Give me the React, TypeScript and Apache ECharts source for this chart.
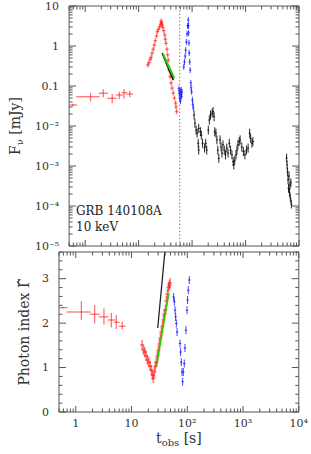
import React, { useEffect, useRef } from 'react';
import * as echarts from 'echarts';

// ---------- data ----------
// early (pre-flare) points with error bars
const earlyT = [0.59, 1.26, 2.18, 3.2, 4.34, 5.33, 6.8];
const earlyTLo = [0.45, 0.68, 1.78, 2.58, 3.77, 4.83, 5.93];
const earlyTHi = [0.71, 1.85, 2.68, 3.88, 5.12, 6.11, 7.81];
const earlyF = [0.0335, 0.054, 0.066, 0.049, 0.0596, 0.068, 0.063];
const earlyFLo = [0.031, 0.041, 0.052, 0.037, 0.0465, 0.049, 0.052];
const earlyFHi = [0.036, 0.068, 0.083, 0.063, 0.072, 0.084, 0.076];
const earlyG = [2.35, 2.25, 2.2, 2.14, 2.07, 2.02, 1.93];
const earlyGLo = [2.33, 2.07, 1.99, 1.97, 1.9, 1.87, 1.86];
const earlyGHi = [2.37, 2.49, 2.4, 2.33, 2.23, 2.18, 2.03];

// red flare, flux
const redT = [14.9, 15.5, 16.4, 17.1, 17.8, 18.8, 19.6, 20.4, 21.6, 22.4, 23.4, 24.7, 25.7, 26.4, 27.0, 27.5, 28.3, 29.5, 30.8, 31.6, 32.5, 33.9, 34.8, 35.8, 37.3, 38.8, 40.5, 42.2, 44.5, 46.7, 49.1, 50.1, 51.2];
const redF = [0.335, 0.383, 0.46, 0.52, 0.66, 0.83, 1.06, 1.36, 1.78, 2.28, 2.61, 3.04, 3.55, 4.2, 3.8, 3.35, 2.93, 2.42, 1.88, 1.47, 1.17, 0.83, 0.6, 0.447, 0.251, 0.171, 0.119, 0.089, 0.067, 0.05, 0.0376, 0.03, 0.0229];

// blue flare, flux
const blueT = [56.5, 57.5, 58.5, 59.5, 60.5, 61.5, 62.5, 63.5, 64.5, 69.9, 71.9, 74.1, 75.9, 78.1, 80.4, 82.6, 84.9, 85.3, 85.9, 87.3, 88.3, 90.2, 92.1, 94.6, 96.0, 98.0, 101.2, 103.0, 105.4];
const blueF = [0.085, 0.065, 0.05, 0.075, 0.042, 0.06, 0.08, 0.055, 0.07, 0.3, 0.4, 0.56, 0.79, 1.26, 2.0, 3.16, 4.47, 3.2, 2.11, 1.19, 0.67, 0.4, 0.25, 0.119, 0.09, 0.071, 0.045, 0.035, 0.028];

// black (late) flux
const blackT = [109, 113, 119, 124, 130, 133, 133, 143, 149, 157, 171, 180, 188, 201, 210, 221, 237, 247, 258, 265, 279, 291, 303, 316, 334, 348, 362, 378, 400, 422, 445, 471, 497, 525, 556, 586, 603, 628, 663, 691, 720, 759, 791, 849, 910, 973, 1042, 1117, 1194, 1245, 1318, 1372, 5860, 5980, 6110, 6240, 6360, 6500, 6630, 6770, 6900, 7050, 7200];
const blackF = [0.0188, 0.0117, 0.0079, 0.0066, 0.0037, 0.0087, 0.0025, 0.0072, 0.0059, 0.0037, 0.0028, 0.0037, 0.0025, 0.0079, 0.0141, 0.0188, 0.0209, 0.0229, 0.017, 0.0072, 0.0066, 0.0045, 0.0025, 0.00155, 0.0045, 0.003, 0.0021, 0.0034, 0.0025, 0.0019, 0.0028, 0.0021, 0.0037, 0.0025, 0.0019, 0.0013, 0.00106, 0.0014, 0.0019, 0.0025, 0.0034, 0.0041, 0.0045, 0.003, 0.0023, 0.0019, 0.0025, 0.0028, 0.0066, 0.0049, 0.0037, 0.0041, 0.00158, 0.00106, 0.00071, 0.00045, 0.00028, 0.00056, 0.00022, 0.00033, 0.000158, 0.00038, 0.000112];

// red flare, photon index
const redGT = [15.5, 16.4, 17.3, 18.3, 19.3, 20.4, 21.6, 22.8, 23.7, 24.7, 25.7, 26.8, 27.9, 29.1, 30.4, 31.6, 32.9, 34.3, 35.8, 37.3, 38.8, 40.5, 42.2, 44.0, 45.8, 47.7, 49.0];
const redG = [1.51, 1.39, 1.35, 1.26, 1.17, 1.12, 1.03, 0.94, 0.83, 0.76, 0.9, 1.03, 1.12, 1.26, 1.39, 1.53, 1.66, 1.8, 1.93, 2.07, 2.2, 2.3, 2.5, 2.65, 2.8, 2.85, 2.9];

// blue flare, photon index
const blueGT = [56.9, 58.6, 60.3, 61.8, 63.6, 65.5, 74.1, 75.9, 78.1, 80.4, 82.5, 84.9, 88.3, 90.9, 94.6, 98.8, 101.2, 104.2, 108.6];
const blueG = [2.59, 2.48, 2.29, 2.14, 1.99, 1.8, 1.54, 1.35, 1.12, 0.9, 0.68, 0.9, 1.09, 1.44, 1.84, 2.29, 2.52, 2.74, 2.97];

// model lines
const greenFluxLine = [[28.5, 0.63], [46.4, 0.156]];
const blackFluxLine = [[27.6, 0.66], [44.5, 0.14]];
const greenIndexLine = [[28.3, 1.06], [46.4, 2.67]];
const blackIndexLine = [[29.5, 1.89], [39.6, 3.6]];
const dottedT = 58.6;

// axes
const X_MIN = 0.5, X_MAX = 10000;
const F_MIN = 1e-5, F_MAX = 10;
const G_MIN = 0, G_MAX = 3.6;

// ---------- style ----------
const FONT = '"DejaVu Serif", serif';
const AX = '#555';
const TXT = '#333';
const RED = 'rgba(255,0,0,0.55)';
const BLUE = 'rgba(0,0,255,0.75)';
const BLACK = 'rgba(0,0,0,0.85)';

const SUP: Record<string, string> = { '-': '⁻', '0': '⁰', '1': '¹', '2': '²', '3': '³', '4': '⁴', '5': '⁵', '6': '⁶' };
const sup = (n: number) => String(n).split('').map((c) => SUP[c]).join('');

function logLabel(v: number, isY: boolean) {
  const l = Math.log10(v);
  const e = Math.round(l);
  if (Math.abs(l - e) > 1e-6) return '';
  if (e === 0) return '1';
  if (e === 1) return '10';
  if (e === -1 && isY) return '0.1';
  return '10' + sup(e);
}

function logTicks(lo: number, hi: number) {
  const out: { v: number; major: boolean }[] = [];
  for (let e = Math.floor(Math.log10(lo)); e <= Math.ceil(Math.log10(hi)); e++) {
    for (let m = 1; m <= 9; m++) {
      const v = m * Math.pow(10, e);
      if (v >= lo * 0.999 && v <= hi * 1.001) out.push({ v, major: m === 1 });
    }
  }
  return out;
}
function linTicks(lo: number, hi: number, step: number, every: number) {
  const out: { v: number; major: boolean }[] = [];
  for (let i = 0; lo + i * step <= hi + 1e-9; i++) out.push({ v: lo + i * step, major: i % every === 0 });
  return out;
}

const line = (x1: number, y1: number, x2: number, y2: number, stroke: string, lw: number) => ({
  type: 'line', shape: { x1, y1, x2, y2 }, style: { stroke, lineWidth: lw },
});

function tickSeries(grid: number, axis: 'x' | 'y', ticks: { v: number; major: boolean }[], ph: number) {
  return {
    type: 'custom', xAxisIndex: grid, yAxisIndex: grid, silent: true, z: 6, clip: false,
    data: ticks.map((t) => (axis === 'x' ? [t.v, ph, t.major ? 6 : 3.5] : [ph, t.v, t.major ? 7 : 3.5])),
    encode: { x: 0, y: 1 },
    renderItem: (params: any, api: any) => {
      const cs = params.coordSys;
      const len = api.value(2);
      if (axis === 'x') {
        const px = api.coord([api.value(0), ph])[0];
        return { type: 'group', children: [
          line(px, cs.y + cs.height, px, cs.y + cs.height - len, AX, 1),
          line(px, cs.y, px, cs.y + len, AX, 1),
        ] };
      }
      const py = api.coord([ph, api.value(1)])[1];
      return { type: 'group', children: [
        line(cs.x, py, cs.x + len, py, AX, 1),
        line(cs.x + cs.width, py, cs.x + cs.width - len, py, AX, 1),
      ] };
    },
  };
}

function crossSeries(grid: number, xs: number[], ys: number[], color: string, hx: number, hy: number, lw: number, z = 3) {
  return {
    type: 'custom', xAxisIndex: grid, yAxisIndex: grid, silent: true, z,
    data: xs.map((x, i) => [x, ys[i]]),
    encode: { x: 0, y: 1 },
    renderItem: (params: any, api: any) => {
      const p = api.coord([api.value(0), api.value(1)]);
      return { type: 'group', children: [
        line(p[0] - hx, p[1], p[0] + hx, p[1], color, lw),
        line(p[0], p[1] - hy, p[0], p[1] + hy, color, lw),
      ] };
    },
  };
}

function errSeries(grid: number, xs: number[], xl: number[], xh: number[], ys: number[], yl: number[], yh: number[], color: string) {
  return {
    type: 'custom', xAxisIndex: grid, yAxisIndex: grid, silent: true, z: 3,
    data: xs.map((x, i) => [x, ys[i], xl[i], xh[i], yl[i], yh[i]]),
    encode: { x: 0, y: 1 },
    renderItem: (params: any, api: any) => {
      const cs = params.coordSys;
      const t = api.value(0), y = api.value(1);
      const a = api.coord([api.value(2), y]);
      const b = api.coord([api.value(3), y]);
      const c = api.coord([t, api.value(4)]);
      const d = api.coord([t, api.value(5)]);
      const x1 = Math.max(a[0], cs.x);
      return { type: 'group', children: [
        line(x1, a[1], b[0], b[1], color, 1.3),
        line(c[0], c[1], d[0], d[1], color, 1.3),
      ] };
    },
  };
}

const lineSeries = (grid: number, data: number[][], color: string, width: number, z: number, type: any = 'solid') => ({
  type: 'line', xAxisIndex: grid, yAxisIndex: grid, data, symbol: 'none', silent: true, z,
  lineStyle: { color, width, type },
});

export default function App() {
  const ref = useRef<HTMLDivElement>(null);
  useEffect(() => {
    if (!ref.current) return;
    const chart = echarts.init(ref.current, undefined, { renderer: 'svg' });
    const richBase = { fontFamily: FONT, fontSize: 14, color: TXT, lineHeight: 18 };
    const richSub = { fontFamily: FONT, fontSize: 10, color: TXT, lineHeight: 18, verticalAlign: 'bottom' };
    const xTicks = logTicks(X_MIN, X_MAX);
    const option: any = {
      animation: false,
      backgroundColor: '#fff',
      grid: [
        { left: 59, top: 6, width: 240, height: 240, show: true, borderColor: AX, borderWidth: 1, backgroundColor: 'transparent' },
        { left: 59, top: 252, width: 240, height: 160, show: true, borderColor: AX, borderWidth: 1, backgroundColor: 'transparent' },
      ],
      xAxis: [
        { type: 'log', gridIndex: 0, min: X_MIN, max: X_MAX, axisLine: { show: false }, axisTick: { show: false }, splitLine: { show: false }, axisLabel: { show: false } },
        {
          type: 'log', gridIndex: 1, min: X_MIN, max: X_MAX, axisLine: { show: false }, axisTick: { show: false }, splitLine: { show: false },
          axisLabel: { formatter: (v: number) => logLabel(v, false), fontFamily: FONT, fontSize: 11, color: TXT, margin: 6 },
          name: '{a|t}{b|obs}{a| [s]}', nameLocation: 'middle', nameGap: 17,
          nameTextStyle: { rich: { a: richBase, b: richSub } },
        },
      ],
      yAxis: [
        {
          type: 'log', gridIndex: 0, min: F_MIN, max: F_MAX, axisLine: { show: false }, axisTick: { show: false }, splitLine: { show: false },
          axisLabel: { formatter: (v: number) => logLabel(v, true), fontFamily: FONT, fontSize: 11, color: TXT, margin: 10 },
          name: '{a|F}{b|ν}{a| [mJy]}', nameLocation: 'middle', nameGap: 42,
          nameTextStyle: { rich: { a: richBase, b: richSub } },
        },
        {
          type: 'value', gridIndex: 1, min: G_MIN, max: G_MAX, interval: 1, axisLine: { show: false }, axisTick: { show: false }, splitLine: { show: false },
          axisLabel: { formatter: (v: number) => (Math.abs(v - Math.round(v)) < 1e-6 ? String(Math.round(v)) : ''), fontFamily: FONT, fontSize: 11, color: TXT, margin: 10 },
          name: 'Photon index Γ\u0302', nameLocation: 'middle', nameGap: 20,
          nameTextStyle: { fontFamily: FONT, fontSize: 14, color: TXT },
        },
      ],
      graphic: [
        { type: 'text', left: 76, top: 205, style: { text: 'GRB 140108A', font: `12px ${FONT}`, fill: '#222' } },
        { type: 'text', left: 76, top: 221, style: { text: '10 keV', font: `12px ${FONT}`, fill: '#222' } },
      ],
      series: [
        lineSeries(0, [[dottedT, F_MIN], [dottedT, F_MAX]], '#666', 1, 2, [1.2, 2.3]),
        errSeries(0, earlyT, earlyTLo, earlyTHi, earlyF, earlyFLo, earlyFHi, RED),
        crossSeries(0, redT, redF, RED, 1.8, 2.5, 1.3),
        crossSeries(0, blueT, blueF, BLUE, 1.2, 3, 1),
        crossSeries(0, blackT, blackF, BLACK, 1, 4.5, 1),
        lineSeries(0, blackFluxLine, '#000', 1.5, 4),
        lineSeries(0, greenFluxLine, '#22cc00', 2, 5),
        errSeries(1, earlyT, earlyTLo, earlyTHi, earlyG, earlyGLo, earlyGHi, RED),
        crossSeries(1, redGT, redG, RED, 2, 5, 1.5),
        crossSeries(1, blueGT, blueG, BLUE, 1.2, 4, 1),
        lineSeries(1, blackIndexLine, '#222', 1.3, 4),
        lineSeries(1, greenIndexLine, '#22cc00', 1.6, 5),
        tickSeries(0, 'x', xTicks, 1),
        tickSeries(0, 'y', logTicks(F_MIN, F_MAX), 1),
        tickSeries(1, 'x', xTicks, 1),
        tickSeries(1, 'y', linTicks(G_MIN, G_MAX, 0.2, 5), 1),
      ],
    };
    chart.setOption(option);
    return () => chart.dispose();
  }, []);
  return <div ref={ref} style={{ position: 'absolute', left: 0, top: 0, width: 311, height: 454, background: '#fff' }} />;
}
